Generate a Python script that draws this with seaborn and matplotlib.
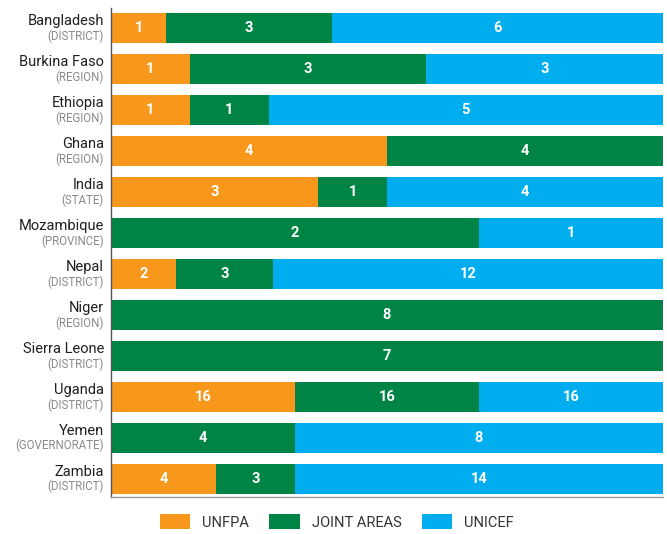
import numpy as np
import pandas as pd
import matplotlib
matplotlib.use("Agg")
import matplotlib.pyplot as plt
import matplotlib.transforms as mtransforms
from matplotlib.patches import Patch
import seaborn as sns

# --- data ---
countries = ["Bangladesh", "Burkina Faso", "Ethiopia", "Ghana", "India", "Mozambique",
             "Nepal", "Niger", "Sierra Leone", "Uganda", "Yemen", "Zambia"]
levels = ["(DISTRICT)", "(REGION)", "(REGION)", "(REGION)", "(STATE)", "(PROVINCE)",
          "(DISTRICT)", "(REGION)", "(DISTRICT)", "(DISTRICT)", "(GOVERNORATE)", "(DISTRICT)"]
unfpa = [1, 1, 1, 4, 3, 0, 2, 0, 0, 16, 0, 4]
joint = [3, 3, 1, 4, 1, 2, 3, 8, 7, 16, 4, 3]
unicef = [6, 3, 5, 0, 4, 1, 12, 0, 0, 16, 8, 14]
series_names = ["UNFPA", "JOINT AREAS", "UNICEF"]
colors = ["#F7981D", "#008445", "#00AEEF"]

sns.set_style("white")
plt.rcParams["font.family"] = ["Roboto", "DejaVu Sans"]

df = pd.DataFrame({"country": countries, "UNFPA": unfpa, "JOINT AREAS": joint, "UNICEF": unicef})
total = df[series_names].sum(axis=1)
df["c_unfpa"] = df["UNFPA"] / total * 100
df["c_joint"] = (df["UNFPA"] + df["JOINT AREAS"]) / total * 100
df["c_all"] = 100.0

fig = plt.figure(figsize=(6.67, 5.34), dpi=100)
ax = fig.add_axes([111 / 667, 1 - 497 / 534, (663 - 111) / 667, (497 - 7.5) / 534])

# layered cumulative bars
for col, c in zip(["c_all", "c_joint", "c_unfpa"], colors[::-1]):
    sns.barplot(data=df, y="country", x=col, color=c, orient="h", width=0.73,
                saturation=1, ax=ax, edgecolor="none", linewidth=0)

ax.set_xlim(0, 100)
ax.set_ylim(11.45, -0.5)

# segment labels
for i in range(len(countries)):
    start = 0
    for s in series_names:
        v = df.loc[i, s]
        w = v / total[i] * 100
        if v > 0:
            ax.text(start + w / 2, i, str(v), ha="center", va="center", color="white",
                    fontsize=10.5, fontweight="bold")
        start += w

# two-line category labels
trans = mtransforms.blended_transform_factory(fig.transFigure, ax.transData)
for i, (name, lvl) in enumerate(zip(countries, levels)):
    ax.text(104 / 667, i - 0.17, name, transform=trans, ha="right", va="center",
            fontsize=10.5, color="#231F20")
    ax.text(104 / 667, i + 0.2, lvl, transform=trans, ha="right", va="center",
            fontsize=8.3, color="#8A8A8A")

ax.set_yticks([])
ax.set_xticks([])
ax.set_xlabel("")
ax.set_ylabel("")
for sp in ["top", "right"]:
    ax.spines[sp].set_visible(False)
ax.spines["left"].set_color("#555555")
ax.spines["left"].set_linewidth(1.0)
ax.spines["bottom"].set_color("#9A9A9A")
ax.spines["bottom"].set_linewidth(1.0)

handles = [Patch(facecolor=c, edgecolor="none", label=n) for n, c in zip(series_names, colors)]
fig.legend(handles=handles, loc="center", bbox_to_anchor=(0.505, 1 - 522 / 534), ncol=3,
           frameon=False, fontsize=10.5, handlelength=2.1, handleheight=1.15,
           columnspacing=1.4, handletextpad=0.8, labelcolor="#333333",
           borderpad=0, borderaxespad=0)

fig.savefig("out.png", dpi=100)
